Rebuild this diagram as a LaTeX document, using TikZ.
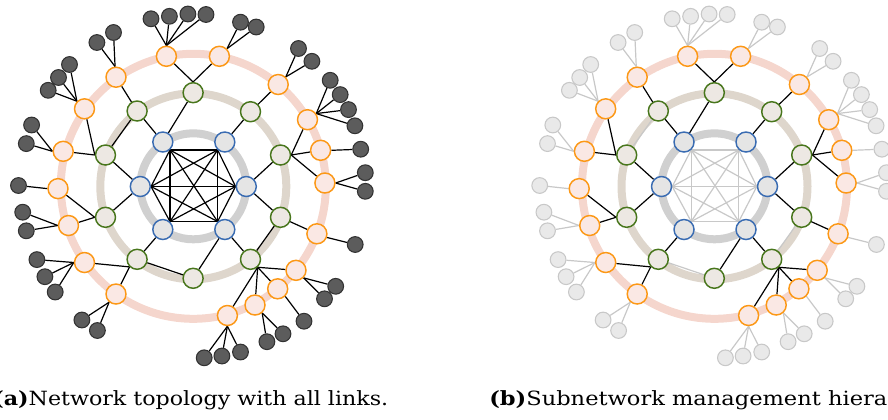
\documentclass[tikz,border=0pt]{standalone}
\usepackage{fontspec}
\setmainfont{DejaVu Serif}
\usetikzlibrary{backgrounds}
\definecolor{coreblue}{RGB}{58,108,178}
\definecolor{aggrgreen}{RGB}{72,118,28}
\definecolor{edgeorange}{RGB}{252,152,22}
\definecolor{corering}{RGB}{208,208,208}
\definecolor{aggrring}{RGB}{222,214,204}
\definecolor{edgering}{RGB}{245,214,205}
\definecolor{leafdark}{RGB}{92,92,92}
\definecolor{leafline}{RGB}{50,50,50}
\definecolor{fadeline}{RGB}{200,200,200}
\definecolor{fadefill}{RGB}{233,233,233}
\tikzset{
  ring/.style={draw=#1,line width=6pt},
  hub/.style={circle,draw=#1,line width=1.1pt,minimum size=15pt,inner sep=0pt},
  core/.style={hub=coreblue,fill=corering!55},
  aggr/.style={hub=aggrgreen,fill=aggrring!55},
  access/.style={hub=edgeorange,fill=edgering!55},
  leaf base/.style={circle,line width=0.8pt,minimum size=11.8pt,inner sep=0pt},
  leaf/.style={leaf base,draw=leafline,fill=leafdark},
  netlink/.style={draw=black,line width=0.9pt},
  mesh link/.style={netlink},
  peer link/.style={netlink},
  leaf link/.style={netlink},
  caption/.style={font=\fontsize{14.7}{17}\selectfont,inner sep=0pt},
  % one whole network, rings first
  pics/netmap/.style={code={
    \begin{scope}[on background layer]
      \draw[ring=corering] (193.3,186.3) circle (53);
      \draw[ring=aggrring] (193.3,186.3) circle (93);
      \draw[ring=edgering] (193.3,186.3) circle (132.5);
    \end{scope}
    \foreach \k/\x/\y in {1/162.8/142,2/224.8/142,3/140.3/186.5,4/246.3/186.5,
        5/162.8/229.5,6/224.8/229.5}
      \node[core] (B\k) at (\x,\y) {};
    \foreach \k/\x/\y in {1/193.1/92.7,2/137.1/111,3/250.5/111.7,4/105.5/155,
        5/280.5/155,6/105.5/217.3,7/280.5/217.3,8/137.1/259.3,9/250.5/259.3,10/193.1/278.3}
      \node[aggr] (G\k) at (\x,\y) {};
    \foreach \k/\x/\y in {1/166.4/56.3,2/219.4/56.3,3/116/77.2,4/278.2/84.5,
        5/84.5/108.8,6/307.5/119.7,7/63.2/151.3,8/320.6/150.3,9/58/188.6,
        10/324.9/183,11/68.5/225.5,12/316.9/233.8,13/84.5/262.5,14/296/270.3,
        15/116/294,16/277.7/288.8,17/255/305,18/227.4/315.5}
      \node[access] (O\k) at (\x,\y) {};
    % end hosts
    \foreach \o/\a/\pts in {
        1/90/{151/18.8,169.4/16.3,187.9/14,206/14.5},
        2/45/{240.5/22.2,256.2/27},
        3/95/{96.9/42.5,113.5/32.5},
        4/45/{298.5/48.5,311.9/61.3},
        5/135/{69.5/64.5,58.5/77.5,48.2/90.3},
        6/35/{330.2/80.3,340.2/94.6,348.5/109.6,354.9/125.8},
        7/180/{31.6/125,26.3/143.6},
        8/0/{360.7/149.2},
        9/180/{18.5/185.5},
        10/0/{365.3/172.7,365.3/191.3},
        11/180/{22.7/212.2,26.3/230.8},
        12/-20/{355.2/244.5},
        13/180/{36.9/259.6,44.9/276.7,55.2/292},
        14/-45/{324.5/298.8,335.7/286.3},
        15/230/{81.9/320,97.4/330.5},
        16/-45/{304/321.2},
        17/-48/{266.9/341.7,283/333.8},
        18/270/{204.2/357.8,221.9/356,240.5/352}}
      \foreach \x/\y [count=\k] in \pts {
        \node[leaf] (O\o-\k) at (\x,\y) {};
        \begin{scope}[on background layer]
          \draw[leaf link] (O\o.\a) -- (O\o-\k);
        \end{scope}
      }
    \begin{scope}[on background layer]
      \foreach \i/\ai in {1/-48,2/228,3/0,4/180,5/48,6/132}
        \foreach \j/\aj in {1/-48,2/228,3/0,4/180,5/48,6/132}
          {\ifnum\i<\j \draw[mesh link] (B\i.\ai) -- (B\j.\aj);\fi}
      \foreach \b/\g in {1/1,1/2,2/3,3/4,3/6,4/5,4/7,5/8,6/9,6/10}
        \draw[netlink] (B\b) -- (G\g);
      \foreach \g/\h in {2/4,7/9,8/10}
        \draw[peer link] (G\g) -- (G\h);
      \foreach \g/\a/\o in {1/90/1,1/90/2,2/center/3,3/center/4,4/180/5,4/180/7,
          5/0/6,5/0/8,5/0/10,6/180/9,6/180/11,7/center/12,8/225/13,8/225/15,
          9/-48/14,9/-48/16,9/-48/17,9/-48/18}
        \draw[netlink] (G\g.\a) -- (O\o);
    \end{scope}
  }},
}

\begin{document}
\begin{tikzpicture}[x=0.75pt,y=-0.75pt]
  \useasboundingbox (0,0) rectangle (888,419);

  \pic (a) at (0,0) {netmap};
  \begin{scope}[leaf/.style={leaf base,draw=fadeline,fill=fadefill},
      leaf link/.style={netlink,draw=fadeline},
      mesh link/.style={netlink,draw=fadeline},
      peer link/.style={netlink,draw=fadeline}]
    \pic (b) at (521.2,0) {netmap};
  \end{scope}

  \node[caption,anchor=base east] (capa) at (388.5,405.5)
    {\scalebox{1.13}[1]{\textbf{(a)}Network topology with all links.}};
  \node[caption,anchor=base west] (capb) at (489,405.5)
    {\scalebox{1.15}[1]{\textbf{(b)}Subnetwork management hiera}};
\end{tikzpicture}
\end{document}
